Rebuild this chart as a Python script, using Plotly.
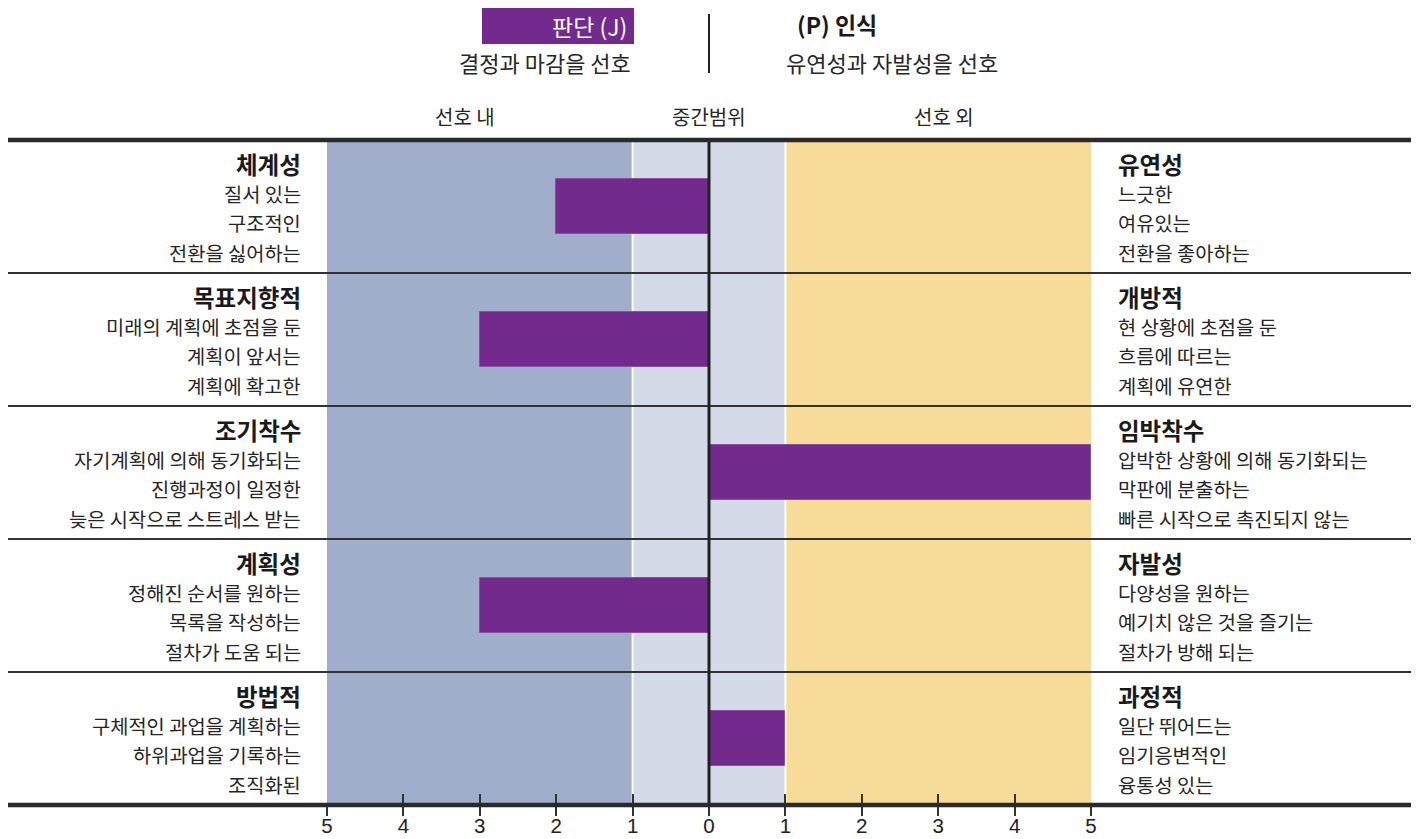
import plotly.graph_objects as go

# ---------------- data ----------------
scores = [-2, -3, 5, -3, 1]
left_titles = ["체계성", "목표지향적", "조기착수", "계획성", "방법적"]
left_descs = [
    ["질서 있는", "구조적인", "전환을 싫어하는"],
    ["미래의 계획에 초점을 둔", "계획이 앞서는", "계획에 확고한"],
    ["자기계획에 의해 동기화되는", "진행과정이 일정한", "늦은 시작으로 스트레스 받는"],
    ["정해진 순서를 원하는", "목록을 작성하는", "절차가 도움 되는"],
    ["구체적인 과업을 계획하는", "하위과업을 기록하는", "조직화된"],
]
right_titles = ["유연성", "개방적", "임박착수", "자발성", "과정적"]
right_descs = [
    ["느긋한", "여유있는", "전환을 좋아하는"],
    ["현 상황에 초점을 둔", "흐름에 따르는", "계획에 유연한"],
    ["압박한 상황에 의해 동기화되는", "막판에 분출하는", "빠른 시작으로 촉진되지 않는"],
    ["다양성을 원하는", "예기치 않은 것을 즐기는", "절차가 방해 되는"],
    ["일단 뛰어드는", "임기응변적인", "융통성 있는"],
]
tick_vals = [-5, -4, -3, -2, -1, 0, 1, 2, 3, 4, 5]
tick_text = ["5", "4", "3", "2", "1", "0", "1", "2", "3", "4", "5"]
zones = [(-5, -1, "#a0aecb"), (-1, 1, "#d4dae7"), (1, 5, "#f7db98")]
zone_labels = [("선호 내", -3.2), ("중간범위", 0), ("선호 외", 3.08)]
header_left = ("판단 (J)", "결정과 마감을 선호")
header_right = ("(P) 인식", "유연성과 자발성을 선호")

# ---------------- layout geometry (page pixels) ----------------
OFF = 8                       # default body margin of the html page
W, H = 1419 - OFF, 839 - OFF
L, R, T, B = 327, 1091, 140, 805
PW, PH = R - L, B - T
ROW_H = PH / len(scores)


def px_x(px):
    return (px - L) / PW


def px_y(px):
    return (B - px) / PH


FONT = "Noto Sans CJK KR"
TXT = "#262626"
DARK = "#1a1a1a"
PURPLE = "#722a8c"
REG, BOLD = 19.8, 23.5

rows = list(range(len(scores)))

fig = go.Figure()
fig.add_trace(go.Bar(
    x=scores, y=rows, orientation="h", width=0.415,
    marker=dict(color=PURPLE, line=dict(color="#8a4fa3", width=1)),
    hoverinfo="skip", showlegend=False,
))
fig.add_trace(go.Scatter(x=[-5, 5], y=[0, 0], xaxis="x2", mode="markers",
                         marker=dict(opacity=0), hoverinfo="skip", showlegend=False))

shapes = []
for x0, x1, c in zones:
    shapes.append(dict(type="rect", xref="x", yref="paper", x0=x0, x1=x1, y0=0, y1=1,
                       fillcolor=c, line=dict(width=0), layer="below"))
for xv in (-1, 1):
    shapes.append(dict(type="line", xref="x", yref="paper", x0=xv, x1=xv, y0=0, y1=1,
                       line=dict(color="white", width=2), layer="below"))
for i in range(1, len(scores)):
    yv = i - 0.5
    shapes.append(dict(type="line", xref="paper", yref="y", x0=px_x(7), x1=px_x(1411),
                       y0=yv, y1=yv, line=dict(color="#333333", width=2)))
shapes.append(dict(type="line", xref="x", yref="paper", x0=0, x1=0, y0=0, y1=1,
                   line=dict(color="#222222", width=3)))
for yp in (0, 1):
    shapes.append(dict(type="line", xref="paper", yref="paper", x0=px_x(7), x1=px_x(1411),
                       y0=yp, y1=yp, line=dict(color="#2a2a2a", width=4.5)))
shapes.append(dict(type="rect", xref="paper", yref="paper", x0=px_x(482), x1=px_x(634),
                   y0=px_y(44), y1=px_y(8), fillcolor=PURPLE, line=dict(width=0)))
shapes.append(dict(type="line", xref="paper", yref="paper", x0=px_x(709), x1=px_x(709),
                   y0=px_y(73), y1=px_y(14), line=dict(color="#222222", width=2)))

ann = []
offs = [24, 53.5, 82.5, 112]
for i in rows:
    lines_l = [left_titles[i]] + left_descs[i]
    lines_r = [right_titles[i]] + right_descs[i]
    for k in range(4):
        yv = i - 0.5 + offs[k] / ROW_H
        bold = k == 0
        f = dict(family=FONT, size=BOLD if bold else REG, color=DARK if bold else TXT,
                 weight="bold" if bold else "normal")
        ann.append(dict(xref="paper", yref="y", x=px_x(303), y=yv, text=lines_l[k],
                        xanchor="right", yanchor="middle", showarrow=False, font=f))
        ann.append(dict(xref="paper", yref="y", x=px_x(1116), y=yv, text=lines_r[k],
                        xanchor="left", yanchor="middle", showarrow=False, font=f))

for txt, xv in zone_labels:
    ann.append(dict(xref="x", yref="paper", x=xv, y=px_y(116), text=txt, showarrow=False,
                    xanchor="center", yanchor="middle",
                    font=dict(family=FONT, size=20, color=TXT)))

ann.append(dict(xref="paper", yref="paper", x=px_x(629), y=px_y(26), text=header_left[0],
                xanchor="right", yanchor="middle", showarrow=False,
                font=dict(family=FONT, size=23, color="white")))
ann.append(dict(xref="paper", yref="paper", x=px_x(545), y=px_y(62), text=header_left[1],
                xanchor="center", yanchor="middle", showarrow=False,
                font=dict(family=FONT, size=22, color=TXT)))
ann.append(dict(xref="paper", yref="paper", x=px_x(795), y=px_y(24), text=header_right[0],
                xanchor="left", yanchor="middle", showarrow=False,
                font=dict(family=FONT, size=23, color=DARK, weight="bold")))
ann.append(dict(xref="paper", yref="paper", x=px_x(892), y=px_y(62), text=header_right[1],
                xanchor="center", yanchor="middle", showarrow=False,
                font=dict(family=FONT, size=22, color=TXT)))

fig.update_layout(
    width=W, height=H,
    margin=dict(l=L - OFF, r=W - (R - OFF), t=T - OFF, b=H - (B - OFF), autoexpand=False),
    paper_bgcolor="white", plot_bgcolor="rgba(0,0,0,0)",
    xaxis=dict(range=[-5, 5], tickvals=tick_vals, ticktext=tick_text,
               ticks="outside", ticklen=10, tickwidth=2, tickcolor="#333333",
               showgrid=False, zeroline=False, showline=False, fixedrange=True,
               automargin=False, ticklabelstandoff=-8,
               tickfont=dict(family="Liberation Sans", size=20.5, color="#222222")),
    xaxis2=dict(range=[-5, 5], overlaying="x", anchor="y", side="bottom",
                tickvals=tick_vals, showticklabels=False, ticks="inside", ticklen=11,
                tickwidth=2, tickcolor="#333333", showgrid=False, zeroline=False,
                showline=False, automargin=False),
    yaxis=dict(range=[len(scores) - 0.5, -0.5], showticklabels=False, showgrid=False,
               zeroline=False, ticks="", fixedrange=True, automargin=False),
    shapes=shapes, annotations=ann, bargap=0,
)

fig.write_html("out.html")
